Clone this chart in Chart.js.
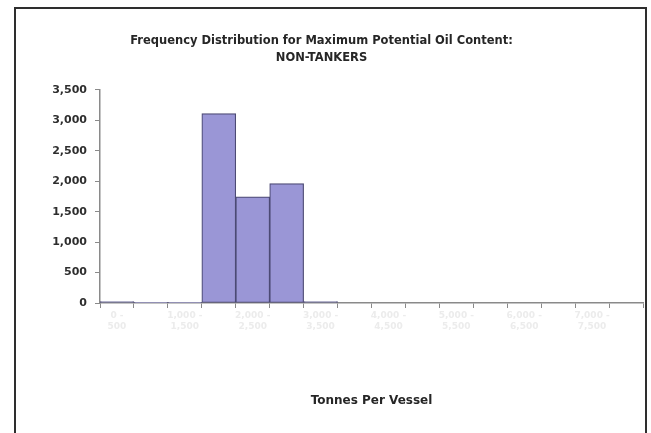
<!DOCTYPE html>
<html>
<head>
<meta charset="utf-8">
<script src="https://cdn.jsdelivr.net/npm/chart.js@4/dist/chart.umd.min.js"></script>
<style>
  html, body { margin: 0; padding: 0; background: #ffffff; }
  #wrap { position: relative; width: 651px; height: 433px; }
  #frame {
    position: absolute; left: 14px; top: 7px; width: 629px; height: 440px;
    border-left: 2px solid #2e2e2e; border-top: 2px solid #2e2e2e; border-right: 2px solid #2e2e2e;
    pointer-events: none;
  }
  canvas { position: absolute; left: 0; top: 0; }
</style>
</head>
<body>
<div id="wrap">
  <canvas id="c" width="651" height="433"></canvas>
  <div id="frame"></div>
</div>
<script>
// Tonnage bins and vessel counts per bin
const binLabels = [
  ["0 -", "500"], ["500 -", "1,000"], ["1,000 -", "1,500"], ["1,500 -", "2,000"],
  ["2,000 -", "2,500"], ["2,500 -", "3,000"], ["3,000 -", "3,500"], ["3,500 -", "4,000"],
  ["4,000 -", "4,500"], ["4,500 -", "5,000"], ["5,000 -", "5,500"], ["5,500 -", "6,000"],
  ["6,000 -", "6,500"], ["6,500 -", "7,000"], ["7,000 -", "7,500"], ["7,500 -", "8,000"]
];
const vesselCounts = [25, 6, 6, 3110, 1745, 1960, 25, 0, 0, 0, 0, 0, 0, 0, 0, 0];
const yTicksMax = 3500;
const yTickStep = 500;

const titleLines = ["Frequency Distribution for Maximum Potential Oil Content:", "NON-TANKERS"];
const xAxisTitle = "Tonnes Per Vessel";

const FONT = "'DejaVu Sans', Verdana, sans-serif";

new Chart(document.getElementById('c'), {
  type: 'bar',
  data: {
    labels: binLabels,
    datasets: [{
      data: vesselCounts,
      backgroundColor: '#9a96d6',
      borderColor: '#4c4a74',
      borderWidth: 1.2,
      borderSkipped: false,
      categoryPercentage: 1.0,
      barPercentage: 1.0
    }]
  },
  options: {
    responsive: false,
    animation: false,
    events: [],
    layout: { padding: { top: 33, left: 0, right: 8, bottom: 0 } },
    plugins: {
      legend: { display: false },
      tooltip: { enabled: false },
      title: {
        display: true,
        text: titleLines,
        color: '#262626',
        font: { family: FONT, size: 11.5, weight: 'bold', lineHeight: 1.45 },
        padding: { top: 0, bottom: 23.6 }
      }
    },
    scales: {
      x: {
        offset: true,
        grid: { display: true, offset: true, drawOnChartArea: false, tickLength: 5, color: '#8a8a8a', lineWidth: 1 },
        border: { display: true, color: '#8a8a8a', width: 1.5 },
        ticks: {
          autoSkip: false,
          maxRotation: 0,
          color: '#ececec',
          font: { family: FONT, size: 9, weight: 'bold' },
          padding: 2,
          callback: function (v, i) { return i % 2 === 0 ? binLabels[i] : ''; }
        },
        title: {
          display: true,
          text: xAxisTitle,
          color: '#262626',
          font: { family: FONT, size: 12, weight: 'bold' },
          padding: { top: 0, bottom: 25 }
        },
        afterFit: function (s) { s.height = 130; }
      },
      y: {
        min: 0,
        max: yTicksMax,
        grid: { display: true, drawOnChartArea: false, tickLength: 5, color: '#8a8a8a' },
        border: { display: true, color: '#8a8a8a', width: 1.5 },
        ticks: {
          stepSize: yTickStep,
          color: '#2e2e2e',
          font: { family: FONT, size: 11, weight: 'bold' },
          padding: 8,
          callback: function (v) { return v.toLocaleString('en-US'); }
        },
        afterFit: function (s) { s.width = 100; }
      }
    }
  }
});
</script>
</body>
</html>
